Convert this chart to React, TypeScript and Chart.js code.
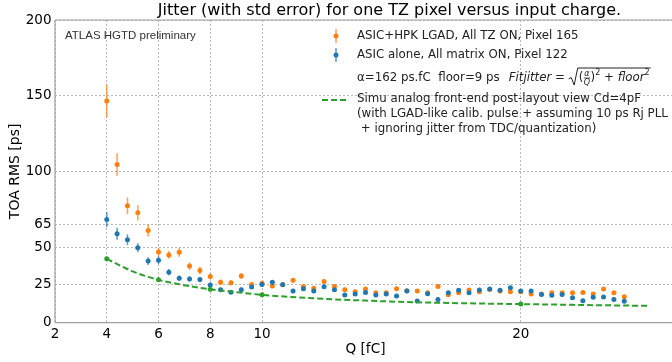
import { useEffect, useRef } from "react";
import { Chart, registerables } from "chart.js";

Chart.register(...registerables);

const charges = [4.0, 4.4, 4.8, 5.2, 5.6, 6.0, 6.4, 6.8, 7.2, 7.6, 8.0, 8.4, 8.8, 9.2, 9.6, 10.0, 10.4, 10.8, 11.2, 11.6, 12.0, 12.4, 12.8, 13.2, 13.6, 14.0, 14.4, 14.8, 15.2, 15.6, 16.0, 16.4, 16.8, 17.2, 17.6, 18.0, 18.4, 18.8, 19.2, 19.6, 20.0, 20.4, 20.8, 21.2, 21.6, 22.0, 22.4, 22.8, 23.2, 23.6, 24.0];

const lgadJitter = [146.5, 104.5, 77.2, 72.6, 61.0, 46.7, 44.8, 46.5, 37.4, 34.5, 30.5, 26.8, 26.4, 30.8, 25.2, 26.0, 24.2, 25.3, 28.0, 24.0, 22.7, 27.3, 24.0, 21.8, 20.5, 22.2, 19.8, 19.8, 22.4, 21.1, 20.9, 19.8, 24.0, 18.5, 19.8, 21.6, 20.5, 22.0, 20.9, 20.5, 20.5, 18.9, 18.9, 19.8, 19.8, 19.8, 20.0, 18.9, 22.2, 19.8, 17.2];
const lgadErr = [10.7, 7.4, 5.5, 5.0, 4.0, 2.8, 2.6, 3.0, 2.5, 2.4, 2.0, 1.7, 1.6, 2.0, 1.5, 1.5, 1.4, 1.4, 1.6, 1.4, 1.3, 1.6, 1.4, 1.3, 1.3, 1.3, 1.2, 1.2, 1.3, 1.2, 1.2, 1.2, 1.3, 1.1, 1.1, 1.2, 1.1, 1.2, 1.1, 1.1, 1.1, 1.0, 1.0, 1.1, 1.1, 1.1, 1.1, 1.0, 1.2, 1.0, 1.0];

const asicJitter = [68.2, 58.8, 54.8, 49.5, 40.7, 41.2, 33.4, 29.4, 28.9, 28.5, 24.9, 21.8, 20.2, 21.8, 23.6, 25.3, 26.7, 25.0, 20.9, 22.4, 20.9, 23.8, 21.8, 18.3, 18.9, 20.0, 18.3, 18.9, 17.6, 20.9, 14.3, 19.1, 15.4, 19.8, 21.4, 19.8, 21.6, 22.2, 21.4, 23.1, 21.0, 20.9, 18.7, 18.1, 18.7, 16.5, 14.5, 16.8, 17.0, 15.4, 14.1];
const asicErr = [5.0, 4.0, 3.6, 3.0, 2.6, 2.6, 2.1, 1.8, 1.7, 1.7, 1.6, 1.3, 1.2, 1.3, 1.3, 1.3, 1.4, 1.3, 1.2, 1.2, 1.1, 1.2, 1.1, 1.0, 1.0, 1.1, 1.0, 1.0, 1.0, 1.1, 0.9, 1.0, 0.9, 1.0, 1.1, 1.0, 1.1, 1.1, 1.0, 1.1, 1.0, 1.0, 1.0, 0.9, 1.0, 0.9, 0.9, 0.9, 0.9, 0.9, 0.9];

const simCharge = [4, 5, 6, 7, 8, 9, 10, 12, 14, 16, 18, 20, 22, 25];
const simJitter = [42.2, 33.9, 28.3, 24.8, 22.1, 20.2, 18.4, 16.1, 14.6, 13.5, 12.8, 12.3, 11.8, 11.1];
const simMarked = [4, 6, 8, 10, 20];

const xTicks = [2, 4, 6, 8, 10, 20];
const yTicks = [0, 25, 50, 65, 100, 150, 200];

const titleText = "Jitter (with std error) for one TZ pixel versus input charge.";
const labelLgad = "ASIC+HPK LGAD, All TZ ON, Pixel 165";
const labelAsic = "ASIC alone, All matrix ON, Pixel 122";
const labelSim = [
  "Simu analog front-end post-layout view Cd=4pF",
  "(with LGAD-like calib. pulse + assuming 10 ps Rj PLL",
  " + ignoring jitter from TDC/quantization)",
];

const ORANGE = "#ff7f0e";
const BLUE = "#1f77b4";
const GREEN = "#2ca02c";
const FAM = '"DejaVu Sans"';

const errorBarsPlugin = {
  id: "errorBars",
  beforeDatasetDraw(chart: any, args: any) {
    const errs = args.index === 0 ? lgadErr : args.index === 1 ? asicErr : null;
    if (!errs) return;
    const vals = args.index === 0 ? lgadJitter : asicJitter;
    const color = args.index === 0 ? "rgba(255,127,14,0.7)" : "rgba(31,119,180,0.7)";
    const { ctx, scales } = chart;
    ctx.save();
    ctx.strokeStyle = color;
    ctx.lineWidth = 1.6;
    for (let i = 0; i < charges.length; i++) {
      const px = scales.x.getPixelForValue(charges[i]);
      const y1 = scales.y.getPixelForValue(vals[i] + errs[i]);
      const y2 = scales.y.getPixelForValue(vals[i] - errs[i]);
      ctx.beginPath();
      ctx.moveTo(px, y1);
      ctx.lineTo(px, y2);
      ctx.stroke();
    }
    ctx.restore();
  },
};

const framePlugin = {
  id: "frame",
  beforeDatasetsDraw(chart: any) {
    const { ctx, chartArea } = chart;
    ctx.save();
    ctx.strokeStyle = "#a0a0a0";
    ctx.lineWidth = 1.2;
    ctx.beginPath();
    ctx.moveTo(chartArea.left, chartArea.top);
    ctx.lineTo(chart.width, chartArea.top);
    ctx.moveTo(chartArea.left, chartArea.bottom);
    ctx.lineTo(chart.width, chartArea.bottom);
    ctx.moveTo(chartArea.left, chartArea.top);
    ctx.lineTo(chartArea.left, chartArea.bottom);
    ctx.stroke();
    ctx.restore();
  },
};

function errGlyph(ctx: CanvasRenderingContext2D, x: number, y: number, color: string, bar: string) {
  ctx.strokeStyle = bar;
  ctx.lineWidth = 1.6;
  ctx.beginPath();
  ctx.moveTo(x, y - 7);
  ctx.lineTo(x, y + 7);
  ctx.stroke();
  ctx.fillStyle = color;
  ctx.beginPath();
  ctx.arc(x, y, 2.5, 0, Math.PI * 2);
  ctx.fill();
}

const annotationPlugin = {
  id: "annotations",
  afterDraw(chart: any) {
    const { ctx } = chart;
    ctx.save();
    ctx.textBaseline = "middle";
    // title
    ctx.fillStyle = "#000";
    ctx.textAlign = "center";
    ctx.font = `16px ${FAM}`;
    ctx.fillText(titleText, 389.5, 11);
    // ATLAS
    ctx.textAlign = "left";
    ctx.fillStyle = "#333";
    ctx.font = `11.5px "Liberation Sans"`;
    ctx.fillText("ATLAS HGTD preliminary", 65, 36);

    // legend
    errGlyph(ctx, 336, 36, ORANGE, "rgba(255,127,14,0.7)");
    errGlyph(ctx, 336, 55, BLUE, "rgba(31,119,180,0.7)");
    ctx.fillStyle = "#222";
    ctx.font = `11.8px ${FAM}`;
    ctx.fillText(labelLgad, 357, 36);
    ctx.fillText(labelAsic, 357, 55);

    // formula line
    const fy = 78;
    let x = 357;
    const p1 = "α=162 ps.fC  floor=9 ps";
    ctx.fillText(p1, x, fy);
    x += ctx.measureText(p1).width + 9;
    ctx.font = `italic 11.8px ${FAM}`;
    ctx.fillText("Fitjitter", x, fy);
    x += ctx.measureText("Fitjitter").width;
    ctx.font = `11.8px ${FAM}`;
    ctx.fillText(" = ", x, fy);
    x += ctx.measureText(" = ").width;
    const rx = x;
    const top = fy - 10;
    x = rx + 10;
    ctx.fillText("(", x, fy);
    x += ctx.measureText("(").width + 0.5;
    ctx.font = `italic 8px ${FAM}`;
    const fw = Math.max(ctx.measureText("α").width, ctx.measureText("Q").width);
    ctx.textAlign = "center";
    ctx.fillText("α", x + fw / 2, fy - 4);
    ctx.fillText("Q", x + fw / 2, fy + 4.5);
    ctx.textAlign = "left";
    ctx.strokeStyle = "#222";
    ctx.lineWidth = 0.7;
    ctx.beginPath();
    ctx.moveTo(x, fy);
    ctx.lineTo(x + fw, fy);
    ctx.stroke();
    x += fw + 0.5;
    ctx.font = `11.8px ${FAM}`;
    ctx.fillText(")", x, fy);
    x += ctx.measureText(")").width;
    ctx.font = `8px ${FAM}`;
    ctx.fillText("2", x, fy - 5);
    x += ctx.measureText("2").width;
    ctx.font = `11.8px ${FAM}`;
    ctx.fillText(" + ", x, fy);
    x += ctx.measureText(" + ").width;
    ctx.font = `italic 11.8px ${FAM}`;
    ctx.fillText("floor", x, fy);
    x += ctx.measureText("floor").width;
    ctx.font = `8px ${FAM}`;
    ctx.fillText("2", x, fy - 5);
    x += ctx.measureText("2").width + 1;
    ctx.lineWidth = 1;
    ctx.beginPath();
    ctx.moveTo(rx, fy + 1);
    ctx.lineTo(rx + 2.5, fy - 0.5);
    ctx.lineTo(rx + 5.5, fy + 7);
    ctx.lineTo(rx + 9, top);
    ctx.lineTo(x, top);
    ctx.stroke();

    // simulation legend
    ctx.strokeStyle = GREEN;
    ctx.lineWidth = 2;
    ctx.setLineDash([6, 3]);
    ctx.beginPath();
    ctx.moveTo(322, 100);
    ctx.lineTo(349, 100);
    ctx.stroke();
    ctx.setLineDash([]);
    ctx.fillStyle = "#222";
    ctx.font = `11.8px ${FAM}`;
    labelSim.forEach((t, i) => ctx.fillText(t, 357, 99 + i * 15));
    ctx.restore();
  },
};

export default function App() {
  const ref = useRef<HTMLCanvasElement>(null);

  useEffect(() => {
    const canvas = ref.current;
    if (!canvas) return;
    const chart = new Chart(canvas, {
      type: "scatter",
      data: {
        datasets: [
          {
            label: labelLgad,
            data: charges.map((q, i) => ({ x: q, y: lgadJitter[i] })),
            backgroundColor: ORANGE,
            borderColor: ORANGE,
            borderWidth: 0,
            pointRadius: 2.5,
            order: 2,
          },
          {
            label: labelAsic,
            data: charges.map((q, i) => ({ x: q, y: asicJitter[i] })),
            backgroundColor: BLUE,
            borderColor: BLUE,
            borderWidth: 0,
            pointRadius: 2.5,
            order: 1,
          },
          {
            label: labelSim[0],
            data: simCharge.map((q, i) => ({ x: q, y: simJitter[i] })),
            showLine: true,
            borderColor: GREEN,
            backgroundColor: GREEN,
            borderWidth: 2,
            borderDash: [6, 3],
            cubicInterpolationMode: "monotone",
            pointRadius: (c: any) => (simMarked.includes(simCharge[c.dataIndex]) ? 2.5 : 0),
            pointBorderWidth: 0,
            order: 0,
          } as any,
        ],
      },
      options: {
        animation: false,
        responsive: false,
        devicePixelRatio: 1,
        layout: { padding: { top: 20, left: 0, right: 0, bottom: 0 } },
        plugins: {
          legend: { display: false },
          tooltip: { enabled: false },
          title: { display: false },
        },
        scales: {
          x: {
            type: "linear",
            min: 2,
            max: 26,
            afterBuildTicks: (s: any) => {
              s.ticks = xTicks.map((v) => ({ value: v }));
            },
            afterFit: (s: any) => {
              s.height = 39.3;
            },
            grid: { color: "#b8b8b8", lineWidth: 1, drawTicks: false },
            border: { display: false, dash: [2, 2] },
            ticks: {
              autoSkip: false,
              maxRotation: 0,
              padding: 4,
              color: "#000",
              font: { family: "DejaVu Sans", size: 13.5 },
            },
            title: {
              display: true,
              text: "Q [fC]",
              color: "#000",
              font: { family: "DejaVu Sans", size: 13.6 },
              padding: { top: 0, bottom: 4 },
            },
          },
          y: {
            type: "linear",
            min: 0,
            max: 200,
            afterBuildTicks: (s: any) => {
              s.ticks = yTicks.map((v) => ({ value: v }));
            },
            afterFit: (s: any) => {
              s.width = 55;
            },
            grid: { color: "#b8b8b8", lineWidth: 1, drawTicks: false },
            border: { display: false, dash: [2, 2] },
            ticks: {
              autoSkip: false,
              padding: 3.5,
              color: "#000",
              font: { family: "DejaVu Sans", size: 13.5 },
            },
            title: {
              display: true,
              text: "TOA RMS [ps]",
              color: "#000",
              font: { family: "DejaVu Sans", size: 14 },
              padding: { top: 7, bottom: 0 },
            },
          },
        },
      },
      plugins: [framePlugin, errorBarsPlugin, annotationPlugin],
    } as any);
    return () => chart.destroy();
  }, []);

  return (
    <div style={{ position: "fixed", left: 0, top: 0, width: 672, height: 362, overflow: "hidden", background: "#fff" }}>
      <canvas ref={ref} width={680} height={362} style={{ display: "block", width: 680, height: 362 }} />
    </div>
  );
}
